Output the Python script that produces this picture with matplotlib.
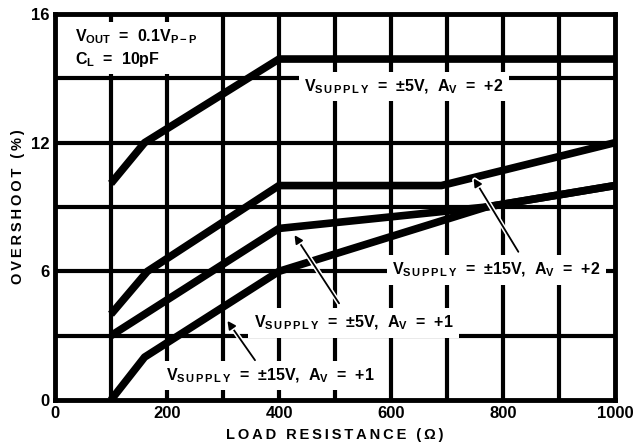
import numpy as np
import matplotlib
matplotlib.use("Agg")
import matplotlib.pyplot as plt
import matplotlib.patheffects as pe
from matplotlib.patches import Rectangle

plt.rcParams['font.family'] = ['Liberation Sans', 'DejaVu Sans']
plt.rcParams['font.weight'] = 'bold'
plt.rcParams['mathtext.fontset'] = 'custom'
plt.rcParams['mathtext.rm'] = 'Liberation Sans:bold'
plt.rcParams['mathtext.bf'] = 'Liberation Sans:bold'
plt.rcParams['mathtext.it'] = 'Liberation Sans:bold'

# load resistance (ohm) / overshoot (%)
r_5v_g2 = [100, 160, 400, 1000]
os_5v_g2 = [10.1, 12.0, 14.6, 14.6]

r_15v_g2 = [100, 165, 400, 690, 1000]
os_15v_g2 = [4.0, 6.0, 10.0, 10.0, 12.0]

r_5v_g1 = [100, 400, 770, 1000]
os_5v_g1 = [3.0, 8.0, 9.0, 10.0]

r_15v_g1 = [100, 160, 400, 770, 1000]
os_15v_g1 = [0.0, 2.0, 6.0, 9.0, 10.0]

x_ticks = [0, 200, 400, 600, 800, 1000]
x_grid = [100, 200, 300, 400, 500, 600, 700, 800, 900]
y_ticks = [0, 6, 12, 16]
y_grid = [3, 6, 9, 12, 14]


# the chart squeezes 0..12 and stretches 12..16
def fwd(y):
    y = np.asarray(y, dtype=float)
    return np.where(y <= 12, y, 12 + (y - 12) * 1.5)


def inv(v):
    v = np.asarray(v, dtype=float)
    return np.where(v <= 12, v, 12 + (v - 12) / 1.5)


def sup(vs, gain):
    return (r'V$_{\mathrm{S\,U\,P\,P\,L\,Y}}$  =  ' + vs + ',  A$_{\mathrm{V}}$  =  ' + gain)


def spaced(s):
    return '\u2009'.join(s)


fig = plt.figure(figsize=(6.38, 4.47), dpi=100)
ax = fig.add_axes([55 / 638, 47 / 447, 560 / 638, 386 / 447])
ax.set_yscale('function', functions=(fwd, inv))
ax.set_xlim(0, 1000)
ax.set_ylim(0, 16)

for xg in x_grid:
    ax.axvline(xg, color='black', lw=3, zorder=1)
for yg in y_grid:
    ax.axhline(yg, color='black', lw=3, zorder=1)

for xs, ys in [(r_5v_g2, os_5v_g2), (r_15v_g2, os_15v_g2),
               (r_5v_g1, os_5v_g1), (r_15v_g1, os_15v_g1)]:
    ax.plot(xs, ys, color='black', lw=5.5, solid_capstyle='butt',
            solid_joinstyle='round', zorder=4)

for s in ax.spines.values():
    s.set_linewidth(3.5)
ax.set_xticks(x_ticks)
ax.set_yticks(y_ticks)
ax.set_xticklabels([str(v) for v in x_ticks])
ax.set_yticklabels([str(v) for v in y_ticks])
ax.tick_params(length=0, labelsize=12, pad=4)
for lab in ax.get_xticklabels() + ax.get_yticklabels():
    lab.set_fontweight('bold')

ax.set_xlabel(spaced('LOAD RESISTANCE (Ω)'), fontsize=10.5,
              fontweight='bold', labelpad=5)
ax.set_ylabel(spaced('OVERSHOOT (%)'), fontsize=10.5, fontweight='bold',
              labelpad=4)

# white panel behind the conditions note
ax.add_patch(Rectangle((0, 14.12), 270, 1.55, facecolor='white',
                       edgecolor='none', zorder=2))

box = dict(facecolor='white', edgecolor='none', pad=4)
tkw = dict(fontsize=11.5, fontweight='bold', zorder=3, bbox=box)

ax.text(35, 14.95, 'V$_{\\mathrm{OUT}}$  =  0.1V$_{\\mathrm{P-P}}$\nC$_{\\mathrm{L}}$  =  10pF',
        ha='left', va='center', linespacing=1.3, **tkw)
ax.text(445, 13.75, sup('±5V', '+2'), ha='left', va='center', **tkw)
ax.text(602, 6.05, sup('±15V', '+2'), ha='left', va='center', **tkw)
ax.text(355, 3.6, sup('±5V', '+1'), ha='left', va='center', **tkw)
ax.text(198, 1.15, sup('±15V', '+1'), ha='left', va='center', **tkw)

akw = dict(arrowstyle='-|>', color='black', lw=1.3, mutation_scale=12,
           path_effects=[pe.withStroke(linewidth=3.5, foreground='white')])
ax.annotate('', xy=(745, 10.45), xytext=(830, 6.8), arrowprops=akw, zorder=5)
ax.annotate('', xy=(425, 7.8), xytext=(510, 4.4), arrowprops=akw, zorder=5)
ax.annotate('', xy=(305, 3.8), xytext=(360, 1.75), arrowprops=akw, zorder=5)

fig.savefig('out.png', dpi=100)
